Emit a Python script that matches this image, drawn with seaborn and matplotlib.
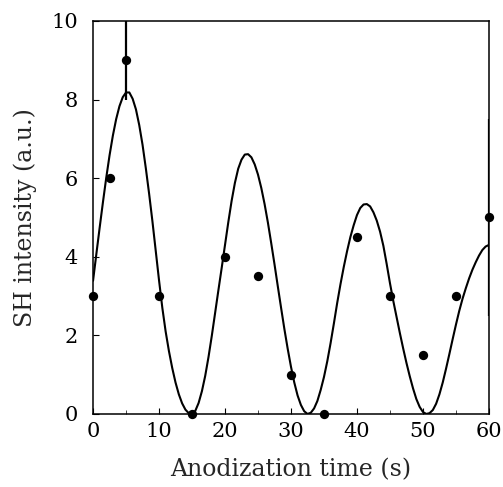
import numpy as np
import pandas as pd
import seaborn as sns
from matplotlib import pyplot as plt
from matplotlib.ticker import MultipleLocator

# measured SH intensity
time_pts = [0, 2.5, 5, 10, 15, 20, 25, 30, 35, 40, 45, 50, 55, 60]
sh_pts = [3, 6, 9, 3, 0, 4, 3.5, 1, 0, 4.5, 3, 1.5, 3, 5]

# two points carry error bars
err_time = [5, 60]
err_sh = [9, 5]
err_size = [1.0, 2.5]

# fitted curve, every 0.5 s
curve_time = [i * 0.5 for i in range(121)]
curve_sh = [
    3.39, 4.07, 4.74, 5.39, 6.01, 6.58, 7.08, 7.50, 7.83, 8.06,
    8.18, 8.18, 8.02, 7.75, 7.35, 6.85, 6.25, 5.60, 4.90, 4.15,
    3.40, 2.70, 2.10, 1.60, 1.17, 0.80, 0.50, 0.27, 0.11, 0.02,
    0.00, 0.08, 0.28, 0.58, 0.97, 1.45, 1.99, 2.57, 3.15, 3.72,
    4.30, 4.88, 5.42, 5.88, 6.24, 6.47, 6.60, 6.61, 6.53, 6.35,
    6.09, 5.75, 5.34, 4.87, 4.35, 3.81, 3.25, 2.70, 2.16, 1.66,
    1.20, 0.80, 0.47, 0.23, 0.07, 0.00, 0.03, 0.14, 0.33, 0.61,
    0.94, 1.34, 1.80, 2.30, 2.82, 3.30, 3.74, 4.14, 4.50, 4.80,
    5.06, 5.24, 5.33, 5.34, 5.28, 5.13, 4.92, 4.64, 4.28, 3.82,
    3.33, 2.88, 2.47, 2.06, 1.67, 1.30, 0.96, 0.65, 0.38, 0.18,
    0.05, 0.00, 0.02, 0.10, 0.26, 0.50, 0.80, 1.15, 1.52, 1.90,
    2.27, 2.62, 2.93, 3.20, 3.45, 3.67, 3.86, 4.03, 4.17, 4.26,
    4.30,
]

sns.set_style("ticks")
plt.rcParams['font.family'] = ['DejaVu Serif']

fig = plt.figure(figsize=(5.03, 4.87), dpi=100)
ax = fig.add_axes([0.185, 0.150, 0.787, 0.807])

sns.lineplot(x=curve_time, y=curve_sh, color='black', linewidth=1.5, ax=ax)
ax.errorbar(err_time, err_sh, yerr=err_size, fmt='none', ecolor='black',
            elinewidth=1.6, capsize=0)
sns.scatterplot(x=time_pts, y=sh_pts, color='black', s=45, edgecolor='black',
                linewidth=0, ax=ax, clip_on=False, zorder=5)

ax.set_xlim(0, 60)
ax.set_ylim(0, 10)
ax.xaxis.set_major_locator(MultipleLocator(10))
ax.xaxis.set_minor_locator(MultipleLocator(5))
ax.yaxis.set_major_locator(MultipleLocator(2))
ax.tick_params(direction='in', length=4, width=0.8, labelsize=15, colors='black')
ax.tick_params(axis='x', which='minor', direction='in', length=3, width=0.6)
ax.tick_params(axis='x', pad=6)
ax.tick_params(axis='y', pad=11)

for side in ['left', 'right', 'top', 'bottom']:
    ax.spines[side].set_visible(True)
    ax.spines[side].set_linewidth(1.1)
    ax.spines[side].set_color('black')

ax.set_xlabel('Anodization time (s)', fontsize=17, labelpad=12)
ax.set_ylabel('SH intensity (a.u.)', fontsize=17, labelpad=10)

fig.savefig('out.png', dpi=100)
